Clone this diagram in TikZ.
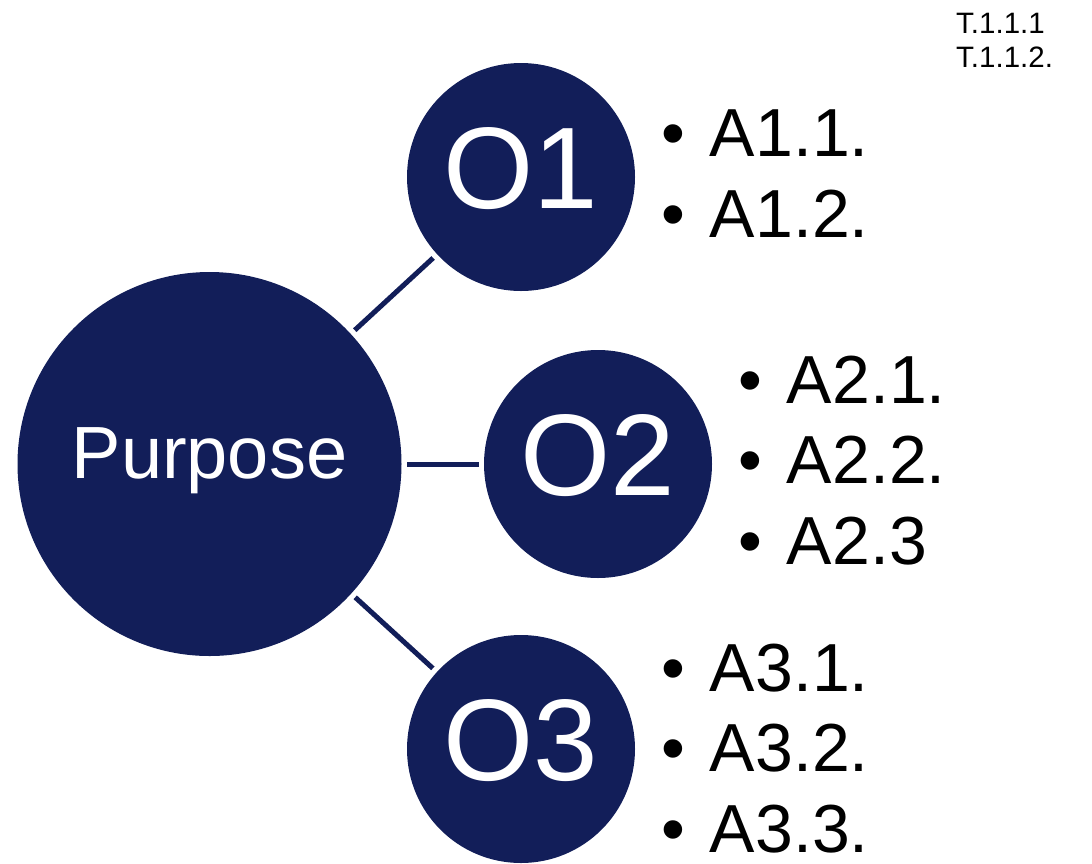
\documentclass[tikz,border=0pt]{standalone}
\usepackage{fontspec}
\setmainfont{Liberation Sans}
\definecolor{navy}{RGB}{18,30,89}
\begin{document}
\begin{tikzpicture}[x=1pt,y=-1pt,
  bigcirc/.style={circle,fill=navy,text=white,inner sep=0pt,outer sep=5.5pt,
     minimum size=384pt,font=\fontsize{74}{80}\selectfont,text depth=21pt},
  objcirc/.style={circle,fill=navy,text=white,inner sep=0pt,outer sep=5.5pt,
     minimum size=228pt,font=\fontsize{116}{120}\selectfont,text depth=18pt},
  link/.style={draw=navy,line width=5pt},
  item/.style={anchor=base west,inner sep=0pt,font=\fontsize{68}{80}\selectfont},
  task/.style={anchor=base west,inner sep=0pt,font=\fontsize{29.5}{34}\selectfont}]
\useasboundingbox (0,0) rectangle (1092,863);
\node[bigcirc] (P) at (209.5,464) {Purpose};
\node[objcirc] (O1) at (521,177) {O1};
\node[objcirc] (O2) at (598,464) {O2};
\node[objcirc] (O3) at (521,749) {O3};
\draw[link] (P) -- (O1);
\draw[link] (P) -- (O2);
\draw[link] (P) -- (O3);
\newcommand{\bul}[1]{\textbullet\hspace{25pt}#1}
\node[item] (a11) at (661,156) {\bul{A1.1.}};
\node[item] (a12) at (661,237) {\bul{A1.2.}};
\node[item] (a21) at (738,403) {\bul{A2.1.}};
\node[item] (a22) at (738,483) {\bul{A2.2.}};
\node[item] (a23) at (738,564) {\bul{A2.3}};
\node[item] (a31) at (661,691) {\bul{A3.1.}};
\node[item] (a32) at (661,771) {\bul{A3.2.}};
\node[item] (a33) at (661,852) {\bul{A3.3.}};
\node[task] (t1) at (956,33) {T.1.1.1};
\node[task] (t2) at (956,67) {T.1.1.2.};
\end{tikzpicture}
\end{document}
